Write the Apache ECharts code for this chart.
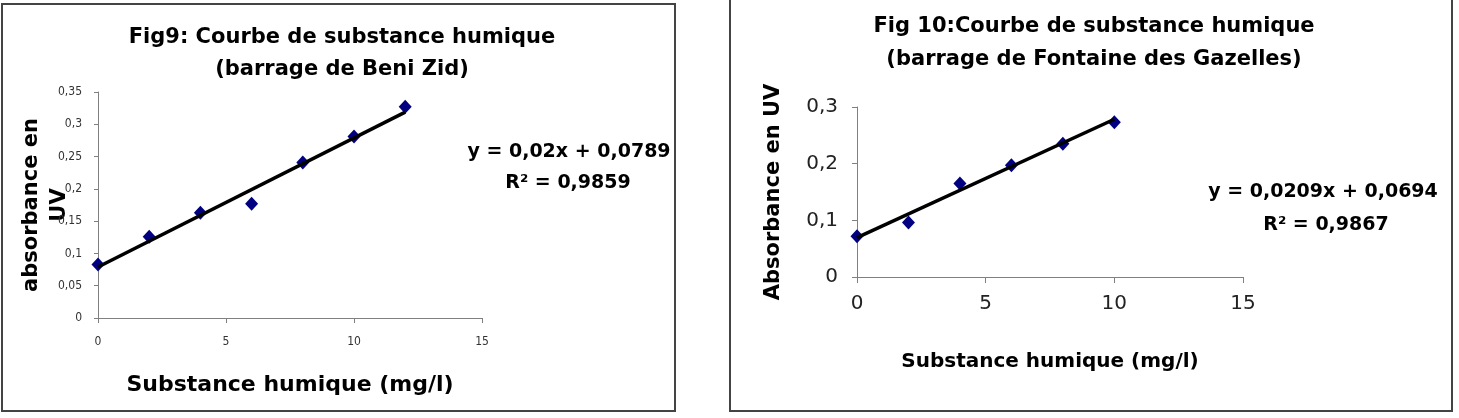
<!DOCTYPE html>
<html><head><meta charset="utf-8">
<script src="https://cdn.jsdelivr.net/npm/echarts@6/dist/echarts.min.js"></script>
<style>html,body{margin:0;padding:0;background:#fff}#c{width:1459px;height:418px}</style>
</head><body><div id="c"></div>
<script>
// Fig 9 : barrage de Beni Zid
const fig9X = [0, 2, 4, 6, 8, 10, 12];
const fig9Y = [0.083, 0.126, 0.163, 0.177, 0.241, 0.281, 0.327];
const fig9Trend = [0.02, 0.0789]; // slope, intercept
const fig9YTicks = ['0','0,05','0,1','0,15','0,2','0,25','0,3','0,35'];
const fig9XTicks = ['0','5','10','15'];
// Fig 10 : barrage de Fontaine des Gazelles
const fig10X = [0, 2, 4, 6, 8, 10];
const fig10Y = [0.072, 0.096, 0.165, 0.197, 0.235, 0.273];
const fig10Trend = [0.0209, 0.0694];
const fig10YTicks = ['0','0,1','0,2','0,3'];
const fig10XTicks = ['0','5','10','15'];

const B = 'DejaVu Sans';
const NARROW = 'DejaVu Sans Condensed';
const pts = (xs, ys) => xs.map((x, i) => [x, ys[i]]);
const trend = (xs, t) => [[xs[0], t[0]*xs[0]+t[1]], [xs[xs.length-1], t[0]*xs[xs.length-1]+t[1]]];
const axisLine = {lineStyle:{color:'#808080', width:1}};
const txt = (x, y, text, size) => ({type:'text', x, y, style:{text, font:'bold ' + size + 'px "DejaVu Sans"', fill:'#000', align:'center', verticalAlign:'middle'}});

const chart = echarts.init(document.getElementById('c'), null, {renderer:'canvas'});
chart.setOption({
  animation:false,
  backgroundColor:'#fff',
  graphic:[
    {type:'rect', shape:{x:2, y:4, width:673, height:407}, style:{fill:'none', stroke:'#444', lineWidth:2}},
    {type:'rect', shape:{x:730, y:-2, width:722, height:413}, style:{fill:'none', stroke:'#444', lineWidth:2}},
    txt(342, 38, 'Fig9: Courbe de substance humique', 21),
    txt(342, 70, '(barrage de Beni Zid)', 21),
    txt(569, 152, 'y = 0,02x + 0,0789', 19),
    txt(568, 183, 'R² = 0,9859', 19),
    txt(1094, 27, 'Fig 10:Courbe de substance humique', 21),
    txt(1094, 60, '(barrage de Fontaine des Gazelles)', 21),
    txt(1323, 192, 'y = 0,0209x + 0,0694', 19),
    txt(1326, 225, 'R² = 0,9867', 19)
  ],
  grid:[
    {left:98, top:92, width:384, height:226, outerBoundsMode:'none', containLabel:false},
    {left:857, top:107, width:386, height:170, outerBoundsMode:'none', containLabel:false}
  ],
  xAxis:[
    {gridIndex:0, type:'value', min:0, max:15, interval:5,
     name:'Substance humique (mg/l)', nameLocation:'middle', nameGap:56, nameMoveOverlap:false,
     nameTextStyle:{fontFamily:B, fontWeight:'bold', fontSize:22, color:'#000'},
     axisLine, axisTick:{show:true, length:5, lineStyle:{color:'#808080'}},
     axisLabel:{fontFamily:NARROW, fontSize:12, color:'#333', margin:18,
       formatter:v => fig9XTicks[Math.round(v/5)]},
     splitLine:{show:false}},
    {gridIndex:1, type:'value', min:0, max:15, interval:5,
     name:'Substance humique (mg/l)', nameLocation:'middle', nameGap:75, nameMoveOverlap:false,
     nameTextStyle:{fontFamily:B, fontWeight:'bold', fontSize:20, color:'#000'},
     axisLine, axisTick:{show:true, length:6, lineStyle:{color:'#808080'}},
     axisLabel:{fontFamily:B, fontSize:20, color:'#222', margin:17,
       formatter:v => fig10XTicks[Math.round(v/5)]},
     splitLine:{show:false}}
  ],
  yAxis:[
    {gridIndex:0, type:'value', min:0, max:0.35, interval:0.05,
     name:'absorbance en\nUV', nameLocation:'middle', nameGap:24, nameMoveOverlap:false,
     nameTextStyle:{fontFamily:B, fontWeight:'bold', fontSize:21, color:'#000', lineHeight:28},
     axisLine:{show:true, lineStyle:{color:'#808080'}}, axisTick:{show:true, length:4, lineStyle:{color:'#808080'}},
     axisLabel:{fontFamily:NARROW, fontSize:12, color:'#333', margin:16,
       formatter:v => fig9YTicks[Math.round(v/0.05)]},
     splitLine:{show:false}},
    {gridIndex:1, type:'value', min:0, max:0.3, interval:0.1,
     name:'Absorbance en UV', nameLocation:'middle', nameGap:73, nameMoveOverlap:false,
     nameTextStyle:{fontFamily:B, fontWeight:'bold', fontSize:21, color:'#000'},
     axisLine:{show:true, lineStyle:{color:'#808080'}}, axisTick:{show:true, length:5, lineStyle:{color:'#808080'}},
     axisLabel:{fontFamily:B, fontSize:20, color:'#222', margin:19,
       formatter:v => fig10YTicks[Math.round(v/0.1)]},
     splitLine:{show:false}}
  ],
  series:[
    {type:'line', xAxisIndex:0, yAxisIndex:0, data:trend(fig9X, fig9Trend), symbol:'none',
     lineStyle:{color:'#000', width:3.5}, z:3},
    {type:'scatter', xAxisIndex:0, yAxisIndex:0, data:pts(fig9X, fig9Y), symbol:'diamond', symbolSize:[13,14],
     itemStyle:{color:'#000080', opacity:1}, z:2},
    {type:'line', xAxisIndex:1, yAxisIndex:1, data:trend(fig10X, fig10Trend), symbol:'none',
     lineStyle:{color:'#000', width:3.5}, z:3},
    {type:'scatter', xAxisIndex:1, yAxisIndex:1, data:pts(fig10X, fig10Y), symbol:'diamond', symbolSize:[13,14],
     itemStyle:{color:'#000080', opacity:1}, z:2}
  ]
});
</script></body></html>
